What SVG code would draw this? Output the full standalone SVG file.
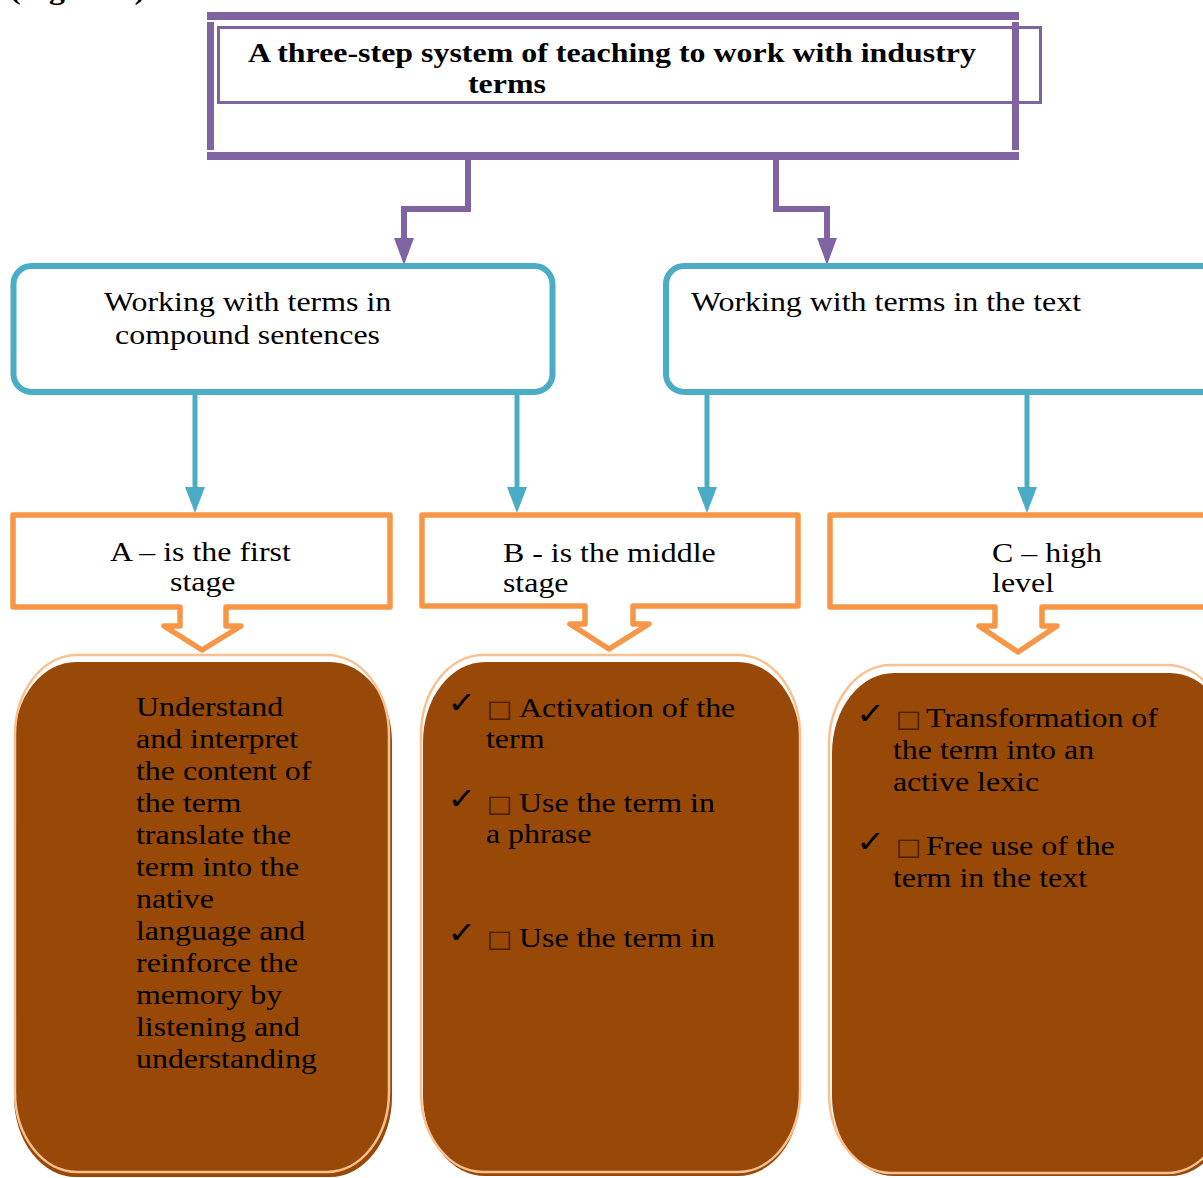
<svg xmlns="http://www.w3.org/2000/svg" width="1203" height="1178" viewBox="0 0 1203 1178">
<style>
.t{font-family:"Liberation Serif","Times New Roman",serif;font-size:28px;fill:#000}
.b{font-weight:bold}
.ck{font-family:"DejaVu Sans",sans-serif;font-size:30px;font-weight:bold;fill:#000}
.tf{font-family:"DejaVu Sans",sans-serif;font-size:24px;fill:#4a2000}
.pu{fill:#8064A2}
.pl{fill:none;stroke:#8064A2;stroke-width:6}
.bl{fill:none;stroke:#4BACC6;stroke-width:5}
.ba{fill:#4BACC6}
.ob{fill:#fff;stroke:#F79646;stroke-width:5.5;stroke-linejoin:round}
.br{fill:#984807}
.pe{fill:none;stroke:#FAC090;stroke-width:2.5}
</style>
<rect width="1203" height="1178" fill="#fff"/>
<g transform="scale(1.14 1)"><text class="t b" x="8.8" y="-1">(Figure 1).</text></g>

<g id="title">
<rect x="218.5" y="27.5" width="822" height="75" fill="none" stroke="#8064A2" stroke-width="3"/>
<rect class="pu" x="207" y="12" width="812" height="8"/>
<rect class="pu" x="207" y="152" width="812" height="8"/>
<rect class="pu" x="207" y="22" width="7" height="128"/>
<rect class="pu" x="1012" y="22" width="7" height="128"/>
<g transform="scale(1.14 1)">
<text class="t b" x="217.5" y="62">A three-step system of teaching to work with industry</text>
<text class="t b" x="410.5" y="93">terms</text>
</g>
</g>

<g id="connectors">
<path class="pl" d="M468,160 V209 H404 V240"/>
<polygon class="pu" points="394,238 414,238 404,265"/>
<path class="pl" d="M776,160 V209 H827 V240"/>
<polygon class="pu" points="817,238 837,238 827,265"/>
<path class="bl" d="M195,395 V490"/>
<polygon class="ba" points="185,487 205,487 195,513"/>
<path class="bl" d="M517,395 V490"/>
<polygon class="ba" points="507,487 527,487 517,513"/>
<path class="bl" d="M707,395 V490"/>
<polygon class="ba" points="697,487 717,487 707,513"/>
<path class="bl" d="M1027,395 V490"/>
<polygon class="ba" points="1017,487 1037,487 1027,513"/>
</g>

<g id="blue-left">
<rect x="13.5" y="266" width="539" height="126" rx="18" fill="#fff" stroke="#4BACC6" stroke-width="6"/>
<g transform="scale(1.14 1)">
<text class="t" x="91.2" y="311">Working with terms in</text>
<text class="t" x="100.9" y="344">compound sentences</text>
</g>
</g>

<g id="blue-right">
<rect x="666" y="266" width="560" height="126" rx="18" fill="#fff" stroke="#4BACC6" stroke-width="6"/>
<g transform="scale(1.14 1)">
<text class="t" x="606.1" y="311">Working with terms in the text</text>
</g>
</g>

<g id="stage-a">
<path class="ob" d="M13,515 H390 V607 H226 V626 H241 L202,650 L164,626 H180 V607 H13 Z"/>
<g transform="scale(1.14 1)">
<text class="t" x="96.5" y="561">A – is the first</text>
<text class="t" x="149.1" y="591">stage</text>
</g>
</g>

<g id="stage-b">
<path class="ob" d="M422,515 H798 V606 H633 V624 H649 L609,649 L570,624 H585 V606 H422 Z"/>
<g transform="scale(1.14 1)">
<text class="t" x="441.2" y="562">B - is the middle</text>
<text class="t" x="441.2" y="592">stage</text>
</g>
</g>

<g id="stage-c">
<path class="ob" d="M830,515 H1215 V607 H1042 V626 H1057 L1018,652 L979,626 H995 V607 H830 Z"/>
<g transform="scale(1.14 1)">
<text class="t" x="870.2" y="562">C – high</text>
<text class="t" x="870.2" y="592">level</text>
</g>
</g>

<g id="content-a">
<rect class="br" x="14" y="662" width="378" height="515" rx="62" ry="80"/>
<rect class="pe" x="15" y="655" width="374" height="517" rx="62" ry="80"/>
<g transform="scale(1.14 1)">
<text class="t" x="119.3" y="716">Understand</text>
<text class="t" x="119.3" y="748">and interpret</text>
<text class="t" x="119.3" y="780">the content of</text>
<text class="t" x="119.3" y="812">the term</text>
<text class="t" x="119.3" y="844">translate the</text>
<text class="t" x="119.3" y="876">term into the</text>
<text class="t" x="119.3" y="908">native</text>
<text class="t" x="119.3" y="940">language and</text>
<text class="t" x="119.3" y="972">reinforce the</text>
<text class="t" x="119.3" y="1004">memory by</text>
<text class="t" x="119.3" y="1036">listening and</text>
<text class="t" x="119.3" y="1068">understanding</text>
</g>
</g>

<g id="content-b">
<rect class="br" x="423" y="662" width="377" height="514" rx="62" ry="80"/>
<rect class="pe" x="421" y="655" width="379" height="517" rx="62" ry="80"/>
<g transform="scale(1.14 1)">
<text class="ck" x="392.5" y="713">✓</text>
<text class="tf" x="427" y="717">□</text>
<text class="t" x="455.3" y="717">Activation of the</text>
<text class="t" x="426.3" y="748">term</text>
<text class="ck" x="392.5" y="809">✓</text>
<text class="tf" x="427" y="812">□</text>
<text class="t" x="455.3" y="812">Use the term in</text>
<text class="t" x="426.3" y="843">a phrase</text>
<text class="ck" x="392.5" y="943">✓</text>
<text class="tf" x="427" y="947">□</text>
<text class="t" x="455.3" y="947">Use the term in</text>
</g>
</g>

<g id="content-c">
<rect class="br" x="832" y="673" width="400" height="503" rx="62" ry="80"/>
<rect class="pe" x="829" y="665" width="400" height="508" rx="62" ry="80"/>
<g transform="scale(1.14 1)">
<text class="ck" x="751.2" y="724">✓</text>
<text class="tf" x="785.7" y="727">□</text>
<text class="t" x="812.3" y="727">Transformation of</text>
<text class="t" x="783.3" y="759">the term into an</text>
<text class="t" x="783.3" y="791">active lexic</text>
<text class="ck" x="751.2" y="852">✓</text>
<text class="tf" x="785.7" y="855">□</text>
<text class="t" x="812.3" y="855">Free use of the</text>
<text class="t" x="783.3" y="887">term in the text</text>
</g>
</g>
</svg>
